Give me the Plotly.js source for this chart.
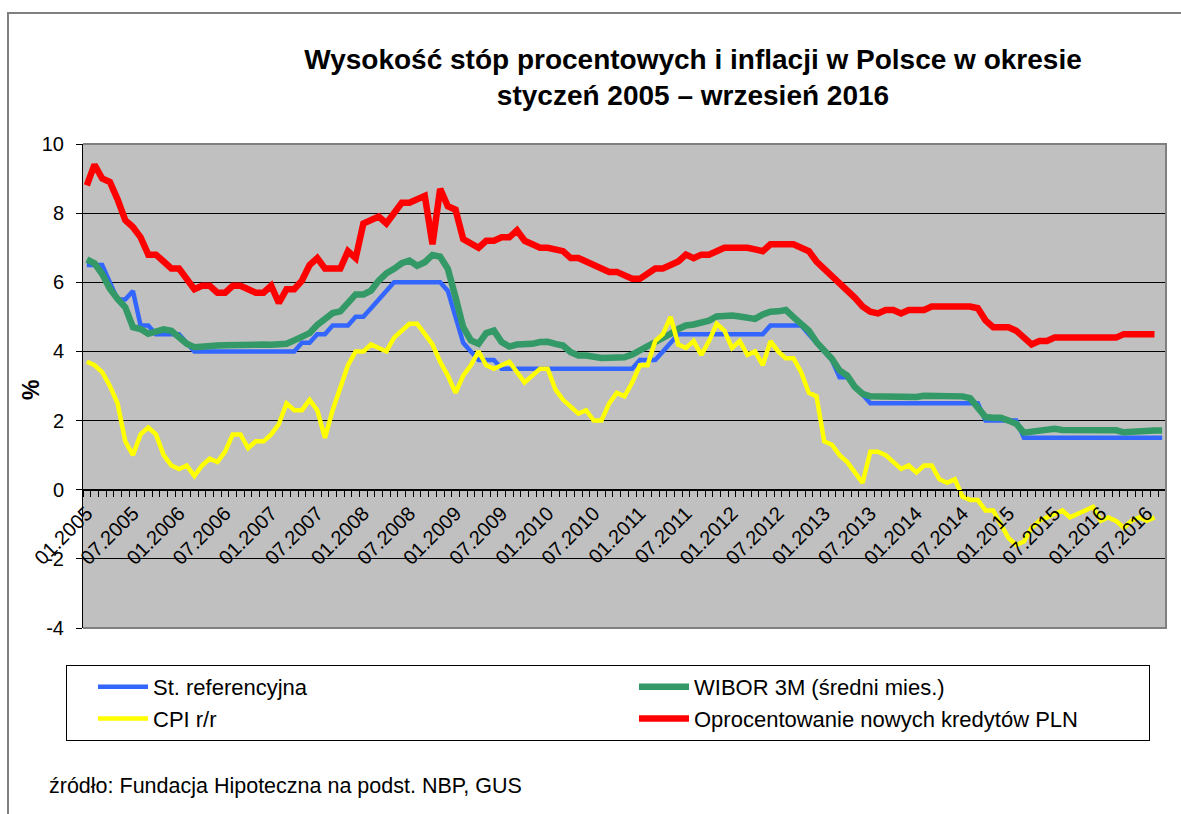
<!DOCTYPE html>
<html>
<head>
<meta charset="utf-8">
<script src="https://cdn.plot.ly/plotly-3.0.1.min.js"></script>
<style>
html,body{margin:0;padding:0;background:#fff;}
#chart{width:1181px;height:814px;}
</style>
</head>
<body>
<div id="chart"></div>
<script>
// ---- data (monthly, from 01.2005) ----
var startYear = 2005;
var tickLabels = ['01.2005','07.2005','01.2006','07.2006','01.2007','07.2007','01.2008','07.2008',
  '01.2009','07.2009','01.2010','07.2010','01.2011','07.2011','01.2012','07.2012',
  '01.2013','07.2013','01.2014','07.2014','01.2015','07.2015','01.2016','07.2016'];
var yTickVals = [-4,-2,0,2,4,6,8,10];
var yTickText = ['-4','-2','0','2','4','6','8','10'];

var refRate = [6.5,6.5,6.5,6.0,5.5,5.5,5.75,4.75,4.75,4.5,
  4.5,4.5,4.5,4.25,4.0,4.0,4.0,4.0,4.0,4.0,
  4.0,4.0,4.0,4.0,4.0,4.0,4.0,4.0,4.25,4.25,
  4.5,4.5,4.75,4.75,4.75,5.0,5.0,5.25,5.5,5.75,
  6.0,6.0,6.0,6.0,6.0,6.0,6.0,5.75,5.0,4.25,
  4.0,3.75,3.75,3.75,3.5,3.5,3.5,3.5,3.5,3.5,
  3.5,3.5,3.5,3.5,3.5,3.5,3.5,3.5,3.5,3.5,
  3.5,3.5,3.75,3.75,3.75,4.0,4.25,4.5,4.5,4.5,
  4.5,4.5,4.5,4.5,4.5,4.5,4.5,4.5,4.5,4.75,
  4.75,4.75,4.75,4.75,4.5,4.25,4.0,3.75,3.25,3.25,
  3.0,2.75,2.5,2.5,2.5,2.5,2.5,2.5,2.5,2.5,
  2.5,2.5,2.5,2.5,2.5,2.5,2.5,2.0,2.0,2.0,
  2.0,2.0,1.5,1.5,1.5,1.5,1.5,1.5,1.5,1.5,
  1.5,1.5,1.5,1.5,1.5,1.5,1.5,1.5,1.5,1.5,
  1.5];

var wibor3m = [6.66,6.55,6.24,5.81,5.52,5.28,4.70,4.65,4.51,4.56,
  4.64,4.60,4.41,4.22,4.12,4.15,4.16,4.17,4.18,4.19,
  4.20,4.20,4.21,4.20,4.19,4.19,4.22,4.32,4.43,4.53,
  4.77,4.94,5.11,5.16,5.38,5.65,5.65,5.76,6.05,6.26,
  6.39,6.55,6.63,6.48,6.58,6.79,6.74,6.39,5.57,4.70,
  4.32,4.22,4.53,4.60,4.27,4.14,4.20,4.20,4.22,4.27,
  4.28,4.22,4.17,3.98,3.88,3.88,3.83,3.81,3.82,3.82,
  3.83,3.91,4.03,4.15,4.22,4.36,4.51,4.65,4.75,4.78,
  4.82,4.89,5.01,5.04,5.04,5.01,4.99,4.94,5.07,5.15,
  5.16,5.20,4.99,4.82,4.60,4.27,4.03,3.79,3.45,3.30,
  2.97,2.77,2.70,2.70,2.70,2.68,2.66,2.66,2.68,2.72,
  2.72,2.72,2.72,2.72,2.70,2.65,2.39,2.10,2.08,2.08,
  2.00,1.91,1.65,1.67,1.71,1.74,1.76,1.73,1.73,1.73,
  1.73,1.73,1.73,1.73,1.72,1.66,1.68,1.70,1.71,1.71,
  1.71];

var cpi = [3.7,3.6,3.4,3.0,2.5,1.4,1.0,1.6,1.8,1.6,
  1.0,0.7,0.6,0.7,0.4,0.7,0.9,0.8,1.1,1.6,
  1.6,1.2,1.4,1.4,1.6,1.9,2.5,2.3,2.3,2.6,
  2.3,1.5,2.3,3.0,3.6,4.0,4.0,4.2,4.1,4.0,
  4.4,4.6,4.8,4.8,4.5,4.2,3.7,3.3,2.8,3.3,
  3.6,4.0,3.6,3.5,3.6,3.7,3.4,3.1,3.3,3.5,
  3.5,2.9,2.6,2.4,2.2,2.3,2.0,2.0,2.5,2.8,
  2.7,3.1,3.6,3.6,4.3,4.5,5.0,4.2,4.1,4.3,
  3.9,4.3,4.8,4.6,4.1,4.3,3.9,4.0,3.6,4.3,
  4.0,3.8,3.8,3.4,2.8,2.7,1.4,1.3,1.0,0.8,
  0.5,0.2,1.1,1.1,1.0,0.8,0.6,0.7,0.5,0.7,
  0.7,0.3,0.2,0.3,-0.2,-0.3,-0.3,-0.6,-0.6,-1.0,
  -1.4,-1.6,-1.5,-1.1,-0.9,-0.8,-0.7,-0.6,-0.8,-0.7,
  -0.6,-0.5,-0.9,-0.8,-0.9,-1.1,-0.9,-0.8,-0.9,-0.8];

var newLoans = [8.8,9.4,9.0,8.9,8.4,7.8,7.6,7.3,6.8,6.8,
  6.6,6.4,6.4,6.1,5.8,5.9,5.9,5.7,5.7,5.9,
  5.9,5.8,5.7,5.7,5.9,5.4,5.8,5.8,6.05,6.5,
  6.7,6.4,6.4,6.4,6.9,6.7,7.7,7.8,7.9,7.7,
  8.0,8.3,8.3,8.4,8.5,7.1,8.7,8.2,8.1,7.25,
  7.1,7.0,7.2,7.2,7.3,7.3,7.5,7.2,7.1,7.0,
  7.0,6.95,6.9,6.7,6.7,6.6,6.5,6.4,6.3,6.3,
  6.2,6.1,6.1,6.25,6.4,6.4,6.5,6.6,6.8,6.7,
  6.8,6.8,6.9,7.0,7.0,7.0,7.0,6.95,6.9,7.1,
  7.1,7.1,7.1,7.0,6.9,6.6,6.4,6.2,6.0,5.75,
  5.55,5.3,5.15,5.1,5.2,5.2,5.1,5.2,5.2,5.2,
  5.3,5.3,5.3,5.3,5.3,5.3,5.25,4.9,4.7,4.7,
  4.7,4.6,4.4,4.2,4.3,4.3,4.4,4.4,4.4,4.4,
  4.4,4.4,4.4,4.4,4.4,4.5,4.5,4.5,4.5,4.5];

var seriesNames = ['St. referencyjna','WIBOR 3M (średni mies.)','CPI r/r','Oprocentowanie nowych kredytów PLN'];
var seriesColors = ['#3366FF','#339966','#FFFF00','#FF0000'];
var seriesWidths = [4.5,6.5,4.5,6.5];
var seriesData = [refRate, wibor3m, cpi, newLoans];

// ---- build ----
var nCat = 141;
var months = [];
for (var i = 0; i < nCat; i++) {
  var m = (i % 12) + 1, y = startYear + Math.floor(i / 12);
  months.push((m < 10 ? '0' + m : '' + m) + '.' + y);
}
var idx = months.map(function(_, i){ return i; });
var labelVals = tickLabels.map(function(t){ return months.indexOf(t); });
var boundaries = [];
for (var b = 0; b <= nCat; b++) boundaries.push(b - 0.5);

var traces = seriesData.map(function(d, k){
  return {
    type: 'scatter', mode: 'lines',
    x: idx.slice(0, d.length), y: d,
    text: months.slice(0, d.length),
    name: seriesNames[k],
    line: {color: seriesColors[k], width: seriesWidths[k]},
    hovertemplate: '%{text}: %{y}<extra>' + seriesNames[k] + '</extra>'
  };
});
// helper trace so that the label axis (x2) is created; draws nothing
traces.push({type: 'scatter', mode: 'lines', x: [labelVals[0]], y: [null],
  xaxis: 'x2', yaxis: 'y', showlegend: false, hoverinfo: 'skip'});

var FONT = 'Liberation Sans, Arial, sans-serif';
var W = 1181, H = 814, ML = 83, MR = 15, MT = 144, MB = 186;
var pw = W - ML - MR, ph = H - MT - MB;
function px2x(p){ return (p - ML) / pw; }
function px2y(p){ return (H - MB - p) / ph; }
var yMin = -4, yMax = 10;
var zeroPos = (0 - yMin) / (yMax - yMin);

var layout = {
  width: W, height: H,
  margin: {l: ML, r: MR, t: MT, b: MB},
  paper_bgcolor: 'rgba(0,0,0,0)',
  plot_bgcolor: '#C0C0C0',
  font: {family: FONT, color: '#000'},
  showlegend: true,
  title: {
    text: 'Wysokość stóp procentowych i inflacji w Polsce w okresie<br>styczeń 2005 – wrzesień 2016',
    font: {family: FONT, size: 28, weight: 'bold', color: '#000'},
    xref: 'container', yref: 'container',
    x: 693 / W, xanchor: 'center',
    y: 1 - 69 / H, yanchor: 'top'
  },
  xaxis: {
    type: 'linear', range: [-0.5, nCat - 0.5],
    anchor: 'free', position: zeroPos,
    showgrid: false, zeroline: false,
    showline: true, linecolor: '#000', linewidth: 1,
    tickmode: 'array', tickvals: boundaries, showticklabels: false,
    ticks: 'outside', ticklen: 6, tickcolor: '#000', tickwidth: 1
  },
  xaxis2: {
    type: 'linear', range: [-0.5, nCat - 0.5],
    overlaying: 'x', anchor: 'free', position: zeroPos, side: 'bottom',
    showgrid: false, zeroline: false, showline: false,
    tickmode: 'array', tickvals: labelVals, ticktext: tickLabels,
    ticks: '', tickangle: -45, ticklabelstandoff: 7,
    tickfont: {family: FONT, size: 20, color: '#000'}
  },
  yaxis: {
    range: [yMin, yMax],
    tickmode: 'array', tickvals: yTickVals, ticktext: yTickText,
    showgrid: true, gridcolor: '#000', gridwidth: 1,
    zeroline: false,
    showline: true, linecolor: '#000', linewidth: 1,
    ticks: 'outside', ticklen: 6, tickcolor: '#000',
    ticklabelstandoff: 8,
    tickfont: {family: FONT, size: 20, color: '#000'}
  },
  legend: {
    orientation: 'h',
    x: px2x(66), y: px2y(665), xanchor: 'left', yanchor: 'top',
    bgcolor: '#FFFFFF', bordercolor: '#000', borderwidth: 1,
    font: {family: FONT, size: 22, color: '#000'},
    entrywidth: 450, entrywidthmode: 'pixels',
    itemwidth: 50, tracegroupgap: 0, indentation: 26
  },
  shapes: [
    {type: 'path', xref: 'paper', yref: 'paper',
     path: 'M0,1 L1,1 L1,0 L0,0',
     line: {color: '#808080', width: 2}, layer: 'above'},
    {type: 'path', xref: 'paper', yref: 'paper',
     path: 'M' + px2x(1190) + ',' + px2y(13) + ' L' + px2x(8) + ',' + px2y(13) + ' L' + px2x(8) + ',' + px2y(820),
     line: {color: '#808080', width: 2}, layer: 'below'}
  ],
  annotations: [
    {text: '<b>%</b>', xref: 'paper', yref: 'paper',
     x: px2x(31), y: px2y(390), xanchor: 'center', yanchor: 'middle',
     textangle: -90, showarrow: false,
     font: {family: FONT, size: 23, color: '#000'}},
    {text: 'źródło: Fundacja Hipoteczna na podst. NBP, GUS', xref: 'paper', yref: 'paper',
     x: px2x(47), y: px2y(786), xanchor: 'left', yanchor: 'middle',
     showarrow: false,
     font: {family: FONT, size: 21.5, color: '#000'}}
  ]
};

Plotly.newPlot('chart', traces, layout, {displayModeBar: false, responsive: false});
</script>
</body>
</html>
